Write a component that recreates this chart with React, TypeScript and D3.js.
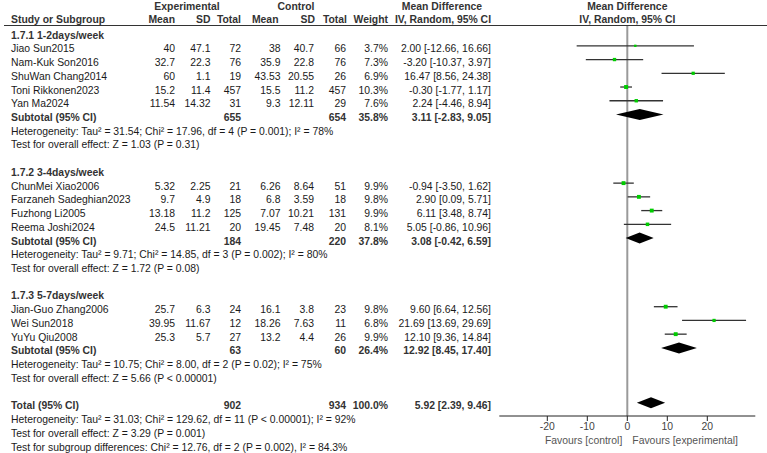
import React from 'react'
import * as d3 from 'd3'

// Study-level data, in display order
const studyNames = [
  'Jiao Sun2015', 'Nam-Kuk Son2016', 'ShuWan Chang2014', 'Toni Rikkonen2023', 'Yan Ma2024',
  'ChunMei Xiao2006', 'Farzaneh Sadeghian2023', 'Fuzhong Li2005', 'Reema Joshi2024',
  'Jian-Guo Zhang2006', 'Wei Sun2018', 'YuYu Qiu2008',
]
const studyGroup = [0, 0, 0, 0, 0, 1, 1, 1, 1, 2, 2, 2]
const expMean = [40, 32.7, 60, 15.2, 11.54, 5.32, 9.7, 13.18, 24.5, 25.7, 39.95, 25.3]
const expSD = [47.1, 22.3, 1.1, 11.4, 14.32, 2.25, 4.9, 11.2, 11.21, 6.3, 11.67, 5.7]
const expTotal = [72, 76, 19, 457, 31, 21, 18, 125, 20, 24, 12, 27]
const ctlMean = [38, 35.9, 43.53, 15.5, 9.3, 6.26, 6.8, 7.07, 19.45, 16.1, 18.26, 13.2]
const ctlSD = [40.7, 22.8, 20.55, 11.2, 12.11, 8.64, 3.59, 10.21, 7.48, 3.8, 7.63, 4.4]
const ctlTotal = [66, 76, 26, 457, 29, 51, 18, 131, 20, 23, 11, 26]
const weights = [3.7, 7.3, 6.9, 10.3, 7.6, 9.9, 9.8, 9.9, 8.1, 9.8, 6.8, 9.9]
const md = [2.0, -3.2, 16.47, -0.3, 2.24, -0.94, 2.9, 6.11, 5.05, 9.6, 21.69, 12.1]
const ciLow = [-12.66, -10.37, 8.56, -1.77, -4.46, -3.5, 0.09, 3.48, -0.86, 6.64, 13.69, 9.36]
const ciHigh = [16.66, 3.97, 24.38, 1.17, 8.94, 1.62, 5.71, 8.74, 10.96, 12.56, 29.69, 14.84]

// Subgroup data
const groupTitles = ['1.7.1 1-2days/week', '1.7.2 3-4days/week', '1.7.3 5-7days/week']
const subExpTotal = [655, 184, 63]
const subCtlTotal = [654, 220, 60]
const subWeight = [35.8, 37.8, 26.4]
const subMD = [3.11, 3.08, 12.92]
const subLow = [-2.83, -0.42, 8.45]
const subHigh = [9.05, 6.59, 17.4]
const subHetero = [
  'Heterogeneity: Tau² = 31.54; Chi² = 17.96, df = 4 (P = 0.001); I² = 78%',
  'Heterogeneity: Tau² = 9.71; Chi² = 14.85, df = 3 (P = 0.002); I² = 80%',
  'Heterogeneity: Tau² = 10.75; Chi² = 8.00, df = 2 (P = 0.02); I² = 75%',
]
const subEffect = [
  'Test for overall effect: Z = 1.03 (P = 0.31)',
  'Test for overall effect: Z = 1.72 (P = 0.08)',
  'Test for overall effect: Z = 5.66 (P < 0.00001)',
]

// Overall
const totalExp = 902
const totalCtl = 934
const totalWeight = 100.0
const totalMD = 5.92
const totalLow = 2.39
const totalHigh = 9.46
const totalNotes = [
  'Heterogeneity: Tau² = 31.03; Chi² = 129.62, df = 11 (P < 0.00001); I² = 92%',
  'Test for overall effect: Z = 3.29 (P = 0.001)',
  'Test for subgroup differences: Chi² = 12.76, df = 2 (P = 0.002), I² = 84.3%',
]

const axisTicks = [-20, -10, 0, 10, 20]
const favoursLeft = 'Favours [control]'
const favoursRight = 'Favours [experimental]'

const f2 = (v: number) => v.toFixed(2)
const ci = (m: number, l: number, h: number) => `${f2(m)} [${f2(l)}, ${f2(h)}]`

type Row = { kind: string; i?: number; g?: number; text?: string }

export default function App() {
  const width = 767
  const height = 453
  const font = 'Liberation Sans, Arial, sans-serif'
  const fs = 10.4
  const ink = '#1a1a1a'
  const head = '#333'

  // Build the row list
  const rows: Row[] = []
  groupTitles.forEach((t, g) => {
    rows.push({ kind: 'title', text: t })
    studyNames.forEach((_, i) => {
      if (studyGroup[i] === g) rows.push({ kind: 'study', i })
    })
    rows.push({ kind: 'subtotal', g })
    rows.push({ kind: 'note', text: subHetero[g] })
    rows.push({ kind: 'note', text: subEffect[g] })
    rows.push({ kind: 'blank' })
  })
  rows.push({ kind: 'total' })
  totalNotes.forEach(t => rows.push({ kind: 'note', text: t }))

  // Row baselines
  const yBase = d3.scaleLinear().domain([0, rows.length - 1]).range([38.6, 38.6 + (rows.length - 1) * 13.73])
  const yMark = (k: number) => yBase(k) - 6.5

  // Plot scale
  const x = d3.scaleLinear().domain([-32, 32]).range([499.3, 755.3])
  const axisY = 416
  const size = d3.scaleSqrt().domain([0, 10]).range([0, 3.9])

  // Column right edges
  const col = { eMean: 175, eSD: 210.5, eTot: 241, cMean: 280.5, cSD: 314, cTot: 346, w: 388, md: 491 }
  const left = 11

  const num = (v: string | number, cx: number, y: number, bold = false) => (
    <text x={cx} y={y} textAnchor="end" fontWeight={bold ? 'bold' : 'normal'}>{v}</text>
  )

  const diamond = (m: number, l: number, h: number, y: number) => {
    const hh = 5.5
    return `M${x(l)},${y}L${x(m)},${y - hh}L${x(h)},${y}L${x(m)},${y + hh}Z`
  }

  return (
    <div style={{ position: 'absolute', left: 0, top: 0 }}>
      <svg width={width} height={height} style={{ display: 'block', background: '#fff' }}
        fontFamily={font} fontSize={fs} fill={ink}>
        {/* Header */}
        <g fontWeight="bold" fill={head}>
          <text x={187} y={10} textAnchor="middle">Experimental</text>
          <text x={296} y={10} textAnchor="middle">Control</text>
          <text x={442} y={10} textAnchor="middle">Mean Difference</text>
          <text x={x(0)} y={10} textAnchor="middle">Mean Difference</text>
          <text x={left} y={22.5}>Study or Subgroup</text>
          {num('Mean', col.eMean, 22.5, true)}
          {num('SD', col.eSD, 22.5, true)}
          {num('Total', col.eTot, 22.5, true)}
          {num('Mean', col.cMean - 2, 22.5, true)}
          {num('SD', col.cSD + 1, 22.5, true)}
          {num('Total', col.cTot + 1, 22.5, true)}
          {num('Weight', col.w, 22.5, true)}
          <text x={443} y={22.5} textAnchor="middle">IV, Random, 95% CI</text>
          <text x={x(0)} y={22.5} textAnchor="middle">IV, Random, 95% CI</text>
        </g>
        <line x1={4} x2={767} y1={25.5} y2={25.5} stroke="#333" strokeWidth={1} />

        {/* Zero line */}
        <line x1={x(0)} x2={x(0)} y1={26} y2={axisY} stroke="#9a9a9a" strokeWidth={2} />

        {/* Rows */}
        {rows.map((r, k) => {
          const yb = yBase(k)
          const ym = yMark(k)
          if (r.kind === 'title') {
            return <text key={k} x={left} y={yb} fontWeight="bold" fill={head}>{r.text}</text>
          }
          if (r.kind === 'note') {
            return <text key={k} x={left} y={yb}>{r.text}</text>
          }
          if (r.kind === 'study') {
            const i = r.i as number
            const s = size(weights[i])
            return (
              <g key={k}>
                <text x={left} y={yb}>{studyNames[i]}</text>
                {num(expMean[i], col.eMean, yb)}
                {num(expSD[i], col.eSD, yb)}
                {num(expTotal[i], col.eTot, yb)}
                {num(ctlMean[i], col.cMean, yb)}
                {num(ctlSD[i], col.cSD, yb)}
                {num(ctlTotal[i], col.cTot, yb)}
                {num(`${weights[i].toFixed(1)}%`, col.w, yb)}
                {num(ci(md[i], ciLow[i], ciHigh[i]), col.md, yb)}
                <line x1={x(ciLow[i])} x2={x(ciHigh[i])} y1={ym} y2={ym} stroke="#333" strokeWidth={1.3} />
                <rect x={x(md[i]) - s / 2} y={ym - s / 2} width={s} height={s} fill="#00cc00" />
              </g>
            )
          }
          if (r.kind === 'subtotal') {
            const g = r.g as number
            return (
              <g key={k} fontWeight="bold" fill={head}>
                <text x={left} y={yb}>Subtotal (95% CI)</text>
                {num(subExpTotal[g], col.eTot, yb, true)}
                {num(subCtlTotal[g], col.cTot, yb, true)}
                {num(`${subWeight[g].toFixed(1)}%`, col.w, yb, true)}
                {num(ci(subMD[g], subLow[g], subHigh[g]), col.md, yb, true)}
                <path d={diamond(subMD[g], subLow[g], subHigh[g], ym)} fill="#000" />
              </g>
            )
          }
          if (r.kind === 'total') {
            return (
              <g key={k} fontWeight="bold" fill={head}>
                <text x={left} y={yb}>Total (95% CI)</text>
                {num(totalExp, col.eTot, yb, true)}
                {num(totalCtl, col.cTot, yb, true)}
                {num(`${totalWeight.toFixed(1)}%`, col.w, yb, true)}
                {num(ci(totalMD, totalLow, totalHigh), col.md, yb, true)}
                <path d={diamond(totalMD, totalLow, totalHigh, ym)} fill="#000" />
              </g>
            )
          }
          return null
        })}

        {/* Bottom axis */}
        <line x1={x.range()[0]} x2={x.range()[1]} y1={axisY} y2={axisY} stroke="#222" strokeWidth={1} />
        {axisTicks.map(t => (
          <g key={t}>
            <line x1={x(t)} x2={x(t)} y1={axisY} y2={axisY + 5} stroke="#222" />
            <text x={x(t)} y={429.5} textAnchor="middle" fill="#444">{t}</text>
          </g>
        ))}
        <text x={x(0) - 5} y={444} textAnchor="end" fill="#555">{favoursLeft}</text>
        <text x={x(0) + 5} y={444} textAnchor="start" fill="#555">{favoursRight}</text>
      </svg>
    </div>
  )
}
